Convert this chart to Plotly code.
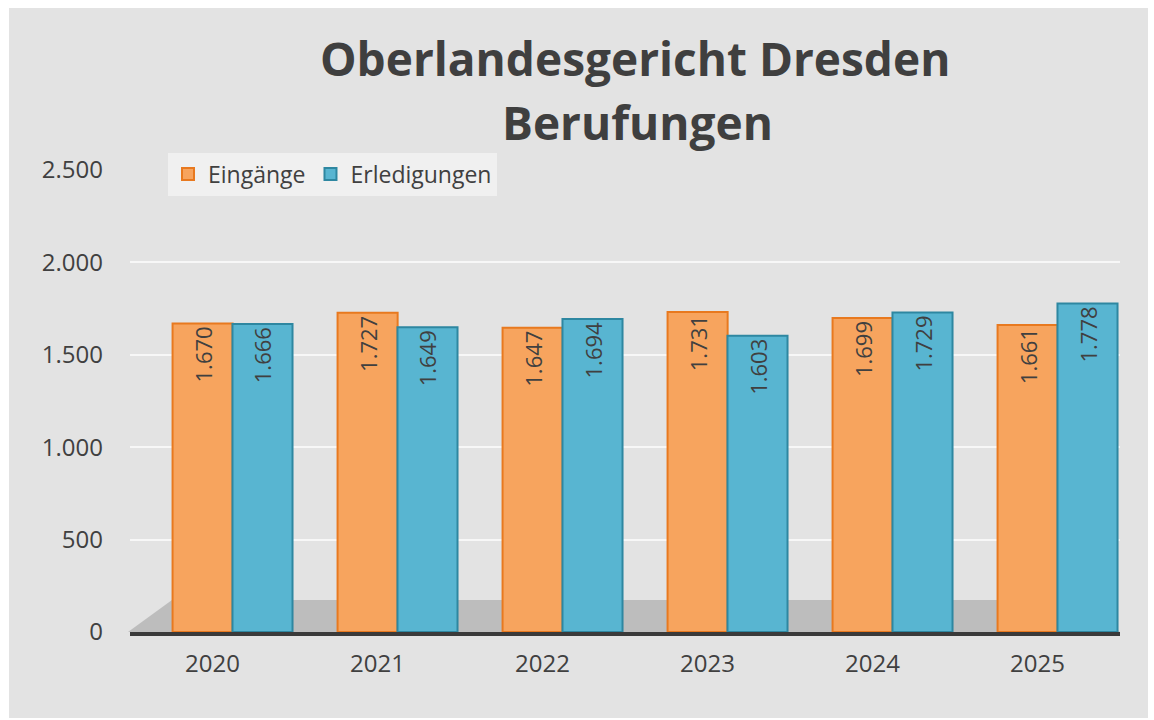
import plotly.graph_objects as go

years = ["2020", "2021", "2022", "2023", "2024", "2025"]
eingaenge = [1670, 1727, 1647, 1731, 1699, 1661]
erledigungen = [1666, 1649, 1694, 1603, 1729, 1778]
y_ticks = [0, 500, 1000, 1500, 2000, 2500]
y_ticktext = ["0", "500", "1.000", "1.500", "2.000", "2.500"]
title_lines = ["Oberlandesgericht Dresden", "Berufungen"]


def de(v):
    return f"{v:,}".replace(",", ".")


FONT = "Open Sans"
TXT = "#404040"

# plot area in pixels: x 130..1120, y 170..632
L, R, T, B = 130, 1120, 170, 632
W, H = R - L, B - T


def px(x):
    return (x - L) / W


def py(y):
    return (B - y) / H


fig = go.Figure()
fig.add_trace(go.Bar(
    name="Eingänge", x=years, y=eingaenge,
    text=[de(v) for v in eingaenge],
    width=0.364, offset=-0.242,
    marker=dict(color="#F7A45E", line=dict(color="#E8791F", width=2)),
))
fig.add_trace(go.Bar(
    name="Erledigungen", x=years, y=erledigungen,
    text=[de(v) for v in erledigungen],
    width=0.364, offset=0.121,
    marker=dict(color="#58B5D1", line=dict(color="#2E87A1", width=2)),
))
fig.update_traces(
    textposition="inside", insidetextanchor="end", textangle=-90,
    textfont=dict(family=FONT, size=22, color=TXT),
    cliponaxis=False,
)

annotations = [
    dict(text=f"<b>{title_lines[0]}</b>", xref="paper", yref="paper",
         x=px(635), y=py(58), xanchor="center", yanchor="middle", showarrow=False,
         font=dict(family=FONT, size=46, color="#3f3f3f")),
    dict(text=f"<b>{title_lines[1]}</b>", xref="paper", yref="paper",
         x=px(637), y=py(122), xanchor="center", yanchor="middle", showarrow=False,
         font=dict(family=FONT, size=46, color="#3f3f3f")),
]

fig.update_layout(
    width=1154, height=720,
    margin=dict(l=L, r=1154 - R, t=T, b=720 - B),
    paper_bgcolor="white",
    plot_bgcolor="rgba(0,0,0,0)",
    barmode="overlay",
    annotations=annotations,
    legend=dict(
        orientation="h", x=px(168), xanchor="left", y=py(174), yanchor="middle",
        bgcolor="rgba(242,242,242,0.8)",
        font=dict(family=FONT, size=23, color=TXT),
        itemwidth=30, traceorder="normal",
    ),
    font=dict(family=FONT, color=TXT),
    xaxis=dict(
        showgrid=False, showline=True, linecolor="#3a3a3a", linewidth=4,
        tickfont=dict(family=FONT, size=24, color=TXT),
        ticks="", ticklabelstandoff=7,
    ),
    yaxis=dict(
        range=[0, 2500], tickvals=y_ticks, ticktext=y_ticktext,
        showgrid=True, gridcolor="rgba(255,255,255,0.7)", gridwidth=1.5,
        zeroline=False, showline=False,
        tickfont=dict(family=FONT, size=24, color=TXT),
        ticklabelstandoff=26,
    ),
    shapes=[
        dict(type="rect", xref="paper", yref="paper", layer="below",
             x0=px(9), x1=px(1148), y0=py(718), y1=py(8),
             fillcolor="#e3e3e3", line=dict(width=0)),
        dict(type="path", xref="paper", yref="paper", layer="below",
             path=f"M {px(128)},{py(632)} L {px(172)},{py(600)} L {px(1085)},{py(600)} L {px(1120)},{py(632)} Z",
             fillcolor="#bdbdbd", line=dict(width=0)),
    ],
)

fig.write_html("out.html", config={"displayModeBar": False},
               post_script="document.body.style.margin='0';")
